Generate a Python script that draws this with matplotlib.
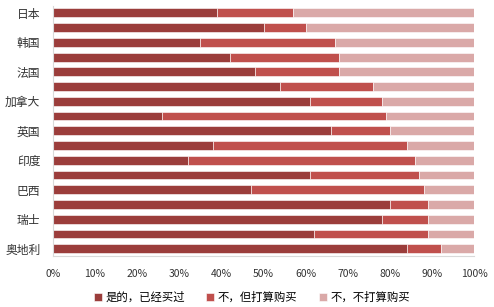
import matplotlib
matplotlib.use("Agg")
import matplotlib.pyplot as plt
import numpy as np

plt.rcParams['font.family'] = ['Noto Sans CJK SC', 'DejaVu Sans']

categories = ['日本', '德国', '韩国', '意大利', '法国', '西班牙', '加拿大', '荷兰', '英国',
              '美国', '印度', '澳大利亚', '巴西', '中国', '瑞士', '瑞典', '奥地利']
show_label = [True, False] * 8 + [True]
bought = [39, 50, 35, 42, 48, 54, 61, 26, 66, 38, 32, 61, 47, 80, 78, 62, 84]
plan = [18, 10, 32, 26, 20, 22, 17, 53, 14, 46, 54, 26, 41, 9, 11, 27, 8]
no_plan = [100 - b - p for b, p in zip(bought, plan)]
series_names = ['是的，已经买过', '不，但打算购买', '不，不打算购买']
xticks = [0, 10, 20, 30, 40, 50, 60, 70, 80, 90, 100]

colors = ['#9B3D3B', '#C0504D', '#DAA9A8']

fig = plt.figure(figsize=(4.94, 3.07), dpi=100)
ax = fig.add_axes([0.107, 0.166, 0.853, 0.816])

y = np.arange(len(categories))
left = np.zeros(len(categories))
for vals, c, name in zip([bought, plan, no_plan], colors, series_names):
    ax.barh(y, vals, left=left, height=0.6, color=c, label=name,
            edgecolor='white', linewidth=0.4)
    left += np.array(vals)

ax.set_ylim(len(categories) - 0.5, -0.5)
ax.set_xlim(0, 100)
ax.set_yticks(y)
ax.set_yticklabels([c if s else '' for c, s in zip(categories, show_label)], fontsize=8.5, color='#333333')
ax.set_xticks(xticks)
ax.set_xticklabels([f'{t}%' for t in xticks], fontsize=7.5, color='#333333')
ax.tick_params(axis='y', length=0, pad=9)
ax.tick_params(axis='x', length=0, pad=9)
for s in ['top', 'right']:
    ax.spines[s].set_visible(False)
for s in ['left', 'bottom']:
    ax.spines[s].set_color('#D9D9D9')
    ax.spines[s].set_linewidth(0.8)

handles, labels = ax.get_legend_handles_labels()
fig.legend(handles, labels, loc='center', bbox_to_anchor=(0.51, 0.033), ncol=3, frameon=False,
           fontsize=8.2, handlelength=0.7, handleheight=0.7, handletextpad=0.3,
           columnspacing=1.9)

fig.savefig('out.png', dpi=100)
